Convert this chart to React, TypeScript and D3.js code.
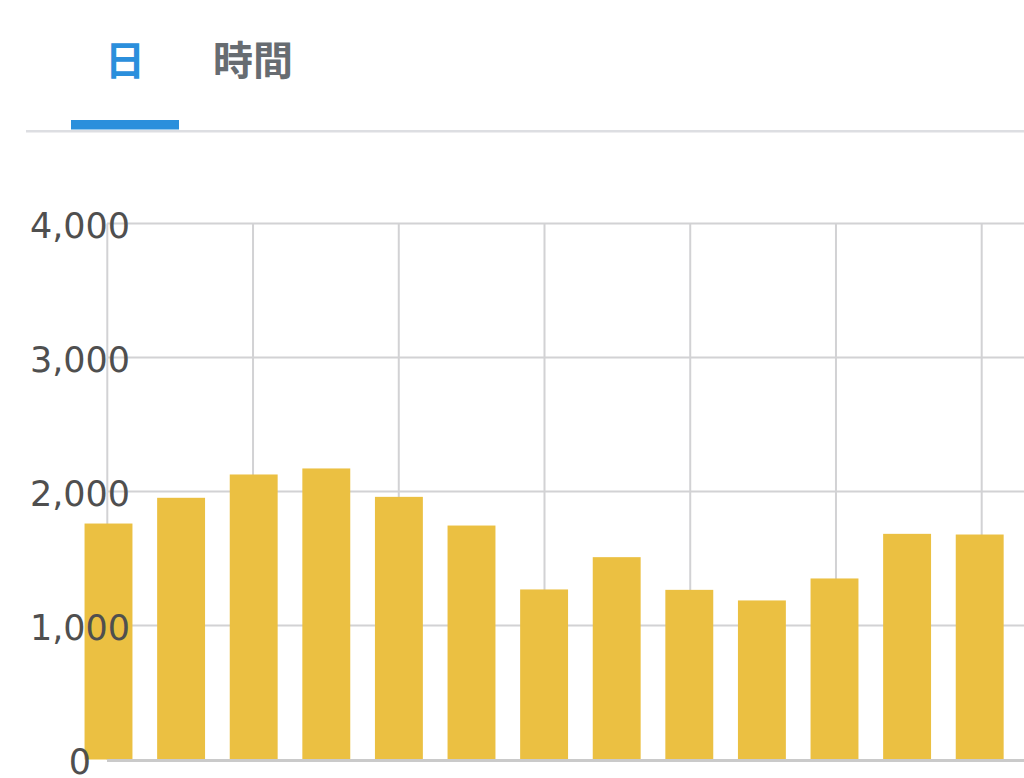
import React, { useRef, useEffect } from 'react';
import * as d3 from 'd3';

// daily values
const days = ['1', '2', '3', '4', '5', '6', '7', '8', '9', '10', '11', '12', '13'];
const counts = [1761, 1953, 2127, 2172, 1960, 1746, 1269, 1510, 1266, 1187, 1351, 1684, 1679];
const yTicks = [0, 1000, 2000, 3000, 4000];
const tabs = ['日', '時間'];

const App: React.FC = () => {
  const svgRef = useRef<SVGSVGElement | null>(null);

  useEffect(() => {
    if (!svgRef.current) return;
    const svg = d3.select(svgRef.current);
    svg.selectAll('*').remove();

    const width = 1024;

    // tabs
    const tabX = [125, 253];
    svg
      .selectAll('text.tab')
      .data(tabs)
      .join('text')
      .attr('class', 'tab')
      .attr('x', (_, i) => tabX[i])
      .attr('y', 75)
      .attr('text-anchor', 'middle')
      .attr('font-family', '"Noto Sans CJK JP", sans-serif')
      .attr('font-weight', 700)
      .attr('font-size', 40)
      .attr('fill', (_, i) => (i === 0 ? '#2b8fdc' : '#676c71'))
      .text((d) => d);

    svg.append('rect').attr('x', 26).attr('y', 130).attr('width', width - 26).attr('height', 2.5).attr('fill', '#dddee2');
    svg.append('rect').attr('x', 71).attr('y', 120).attr('width', 108).attr('height', 9.5).attr('fill', '#2b8fdc');

    // scales
    const x = d3.scaleBand<string>().domain(days).range([72.2, 72.2 + 13 * 72.6]).paddingInner(0.34).paddingOuter(0.17);
    const y = d3.scaleLinear().domain([0, 4000]).range([759.5, 223.5]);
    // grid columns run on their own (time) axis, slightly wider than the bar step
    const gx = d3.scaleLinear().domain([0, 12]).range([107.3, 981.7]);

    const g = svg.append('g');

    // horizontal grid
    g.selectAll('line.h')
      .data(yTicks.filter((t) => t > 0))
      .join('line')
      .attr('class', 'h')
      .attr('x1', 107)
      .attr('x2', width)
      .attr('y1', (d) => y(d))
      .attr('y2', (d) => y(d))
      .attr('stroke', '#d2d2d4')
      .attr('stroke-width', 2);

    // vertical grid every other day
    const vIdx = days.map((_, i) => i).filter((i) => i % 2 === 0);
    g.selectAll('line.v')
      .data(vIdx)
      .join('line')
      .attr('class', 'v')
      .attr('x1', (d) => gx(d))
      .attr('x2', (d) => gx(d))
      .attr('y1', y(4000))
      .attr('y2', y(0))
      .attr('stroke', '#d2d2d4')
      .attr('stroke-width', 2);

    // bars
    g.selectAll('rect.bar')
      .data(counts)
      .join('rect')
      .attr('class', 'bar')
      .attr('x', (_, i) => x(days[i]) as number)
      .attr('width', x.bandwidth())
      .attr('y', (d) => y(d))
      .attr('height', (d) => y(0) - y(d))
      .attr('fill', '#ebc042');

    // baseline
    g.append('line')
      .attr('x1', 107)
      .attr('x2', width)
      .attr('y1', y(0) + 1)
      .attr('y2', y(0) + 1)
      .attr('stroke', '#cacaca')
      .attr('stroke-width', 3);

    // y labels (drawn over the plot)
    g.selectAll('text.yl')
      .data(yTicks)
      .join('text')
      .attr('class', 'yl')
      .attr('x', 80)
      .attr('y', (d) => y(d) + 14)
      .attr('text-anchor', 'middle')
      .attr('font-family', '"DejaVu Sans", sans-serif')
      .attr('font-size', 35)
      .attr('fill', '#4f4f4f')
      .text((d) => d3.format(',')(d));
  }, []);

  return (
    <svg
      ref={svgRef}
      width={1024}
      height={778}
      style={{ position: 'absolute', left: 0, top: 0, background: '#fff' }}
    ></svg>
  );
};

export default App;
